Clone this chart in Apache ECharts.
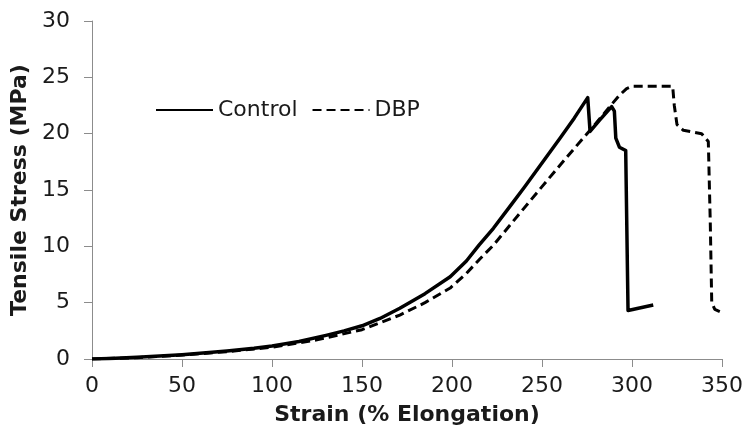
<!DOCTYPE html>
<html>
<head>
<meta charset="utf-8">
<script src="https://cdn.jsdelivr.net/npm/echarts@6/dist/echarts.min.js"></script>
<style>
html,body{margin:0;padding:0;background:#fff;}
#chart{width:750px;height:445px;}
</style>
</head>
<body>
<div id="chart"></div>
<script>
// Data
const controlStrain = [0, 10, 25, 40, 50, 60, 75, 90, 100, 115, 130, 140, 150, 160, 171, 185, 199, 208, 215, 223, 232, 240, 250, 260, 268, 275.4, 276.7, 282, 288.7, 290.2, 291, 293, 296.5, 297.8, 311.8];
const controlStress = [0, 0.05, 0.15, 0.28, 0.38, 0.5, 0.72, 0.95, 1.15, 1.55, 2.1, 2.5, 2.95, 3.6, 4.5, 5.8, 7.3, 8.7, 10.1, 11.6, 13.5, 15.2, 17.4, 19.6, 21.4, 23.2, 20.2, 21.2, 22.4, 22.0, 19.6, 18.8, 18.5, 4.3, 4.8];

const dbpStrain = [0, 25, 50, 75, 100, 125, 150, 171, 185, 199, 208, 215.6, 223, 238, 250, 260, 268, 276.7, 283, 288.7, 293, 297, 300, 322.6, 323.5, 325, 328.5, 338.7, 342.4, 343.5, 344.3, 346, 348.9];
const dbpStress = [0, 0.12, 0.35, 0.65, 1.05, 1.7, 2.6, 3.9, 5.0, 6.3, 7.6, 8.9, 10.1, 13.0, 15.3, 17.2, 18.7, 20.3, 21.5, 22.6, 23.4, 24.0, 24.2, 24.2, 22.5, 20.8, 20.3, 20.0, 19.3, 12, 5.0, 4.4, 4.2];

const seriesNames = ['Control', 'DBP'];
const xTitle = 'Strain (% Elongation)';
const yTitle = 'Tensile Stress (MPa)';

const pairs = (xs, ys) => xs.map((x, i) => [x, ys[i]]);

const FONT = 'DejaVu Sans';
const TXT = '#1a1a1a';
const AX = '#8c8c8c';

const chart = echarts.init(document.getElementById('chart'), null, {renderer: 'canvas'});
chart.setOption({
  animation: false,
  backgroundColor: '#fff',
  grid: {left: 92, right: 28, top: 21, bottom: 86, containLabel: false},
  legend: {
    data: seriesNames,
    left: 155,
    top: 99,
    padding: 0,
    itemWidth: 57,
    itemHeight: 14,
    itemGap: 14,
    itemStyle: {opacity: 0},
    textStyle: {fontFamily: FONT, fontSize: 22, color: TXT}
  },
  xAxis: {
    type: 'value', min: 0, max: 350, interval: 50,
    name: xTitle, nameLocation: 'middle', nameGap: 45,
    nameTextStyle: {fontFamily: FONT, fontSize: 22, fontWeight: 'bold', color: TXT},
    axisLine: {show: true, lineStyle: {color: AX, width: 1}},
    axisTick: {show: true, inside: false, length: 8, lineStyle: {color: AX}},
    axisLabel: {fontFamily: FONT, fontSize: 22, color: TXT, margin: 16},
    splitLine: {show: false}
  },
  yAxis: {
    type: 'value', min: 0, max: 30, interval: 5,
    name: yTitle, nameLocation: 'middle', nameGap: 60, nameRotate: 90,
    nameTextStyle: {fontFamily: FONT, fontSize: 22, fontWeight: 'bold', color: TXT},
    axisLine: {show: true, lineStyle: {color: AX, width: 1}},
    axisTick: {show: true, inside: false, length: 8, lineStyle: {color: AX}},
    axisLabel: {fontFamily: FONT, fontSize: 22, color: TXT, margin: 22},
    splitLine: {show: false}
  },
  series: [
    {
      name: seriesNames[0], type: 'line', data: pairs(controlStrain, controlStress),
      showSymbol: false, symbol: 'none', smooth: false,
      lineStyle: {color: '#000', width: 3.5, type: 'solid', join: 'round'},
      itemStyle: {color: '#000'}
    },
    {
      name: seriesNames[1], type: 'line', data: pairs(dbpStrain, dbpStress),
      showSymbol: false, symbol: 'none', smooth: false,
      lineStyle: {color: '#000', width: 3, type: [9, 5]},
      itemStyle: {color: '#000'}
    }
  ]
});
</script>
</body>
</html>
